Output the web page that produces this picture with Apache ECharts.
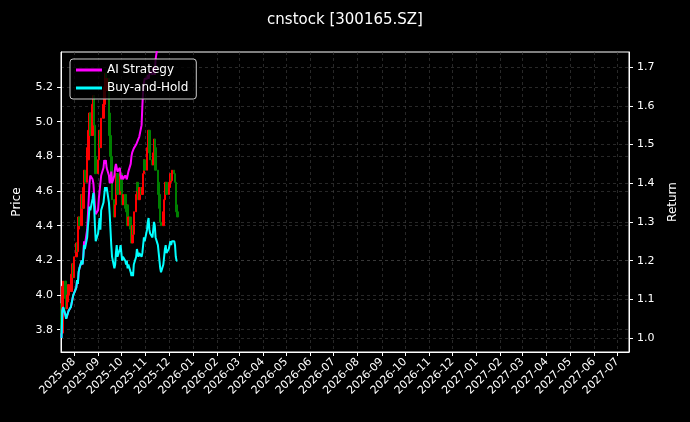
<!DOCTYPE html>
<html><head><meta charset="utf-8">
<script src="https://cdn.jsdelivr.net/npm/echarts@6/dist/echarts.min.js"></script>
<style>html,body{margin:0;background:#000}#c{width:690px;height:422px}</style>
</head><body><div id="c"></div>
<script>
const startDate = '2025-07-16';
const closes = [3.78,4.05,4.08,3.98,3.92,3.96,4.00, 4.06,4.02,4.12,4.18,4.10,4.22,
4.30,4.25,4.38,4.45,4.40,4.58,4.50, 4.62,4.72,4.65,4.85,4.78,4.95,5.05,
4.92,5.10,5.15,4.98,4.80,4.70, 4.78,4.88,4.95,4.85,5.02,5.10,
5.20,5.28,5.18,5.25,5.05,4.92, 4.80,4.68,4.55,4.45,4.52,4.62,
4.70,4.58,4.65,4.70,4.60,4.52, 4.58,4.50,4.48,4.52,4.40,4.45,
4.38,4.30,4.40,4.35,4.48,4.58, 4.65,4.60,4.55,4.62,4.58,4.62,
4.70,4.78,4.72,4.85,4.92,4.95, 4.82,4.78,4.75,4.82,4.90,4.85,
4.72,4.65,4.58,4.50,4.42,4.40, 4.48,4.55,4.62,4.65,4.58,4.62,
4.65,4.70,4.66,4.72,4.70,4.65, 4.52,4.48,4.45];
const firstOpen = 3.95;
const buyHold = [1.00,1.07,1.08,1.06,1.05,1.05,1.055, 1.07,1.08,1.09,1.10,1.11,1.11,
1.13,1.15,1.14,1.17,1.18,1.20,1.19, 1.21,1.24,1.23,1.26,1.29,1.31,1.34,
1.33,1.36,1.375,1.34,1.29,1.25, 1.27,1.29,1.31,1.28,1.33,1.35,
1.37,1.39,1.38,1.39,1.35,1.32, 1.28,1.24,1.21,1.18,1.19,1.22,
1.24,1.21,1.23,1.24,1.22,1.20, 1.21,1.20,1.19,1.20,1.18,1.19,
1.17,1.16,1.17,1.16,1.19,1.21, 1.23,1.22,1.21,1.22,1.21,1.22,
1.24,1.26,1.25,1.28,1.30,1.31, 1.28,1.27,1.26,1.28,1.30,1.29,
1.26,1.24,1.22,1.20,1.18,1.17, 1.19,1.21,1.23,1.24,1.22,1.23,
1.24,1.25,1.24,1.25,1.25,1.24, 1.21,1.20,1.20];
const aiStrategy = [1.00,1.07,1.08,1.06,1.05,1.05,1.055, 1.07,1.08,1.09,1.10,1.11,1.11,
1.13,1.15,1.14,1.17,1.18,1.20,1.19, 1.21,1.25,1.24,1.28,1.32,1.36,1.40,
1.42,1.41,1.40,1.37,1.34,1.32, 1.33,1.36,1.38,1.40,1.42,1.44,
1.46,1.45,1.46,1.44,1.42,1.40, 1.41,1.43,1.40,1.42,1.44,1.45,
1.44,1.43,1.44,1.42,1.41,1.42, 1.41,1.42,1.42,1.41,1.42,1.43,
1.45,1.47,1.48,1.48,1.49,1.50, 1.50,1.51,1.51,1.52,1.55,1.60,
1.64,1.66,1.67,1.67,1.68,1.67, 1.68,1.69,1.68,1.70,1.69,1.68,
1.72,1.76,1.79,1.81,1.80,1.82,1.84,1.83,1.85,1.86,1.84,1.85,1.87,1.86,1.85,1.84,1.86,1.85,1.83,1.82,1.82];
const priceTicks = [3.8,4.0,4.2,4.4,4.6,4.8,5.0,5.2];
const returnTicks = [1.0,1.1,1.2,1.3,1.4,1.5,1.6,1.7];

const dates = [];
let d = Date.parse(startDate + 'T00:00:00Z');
while (dates.length < closes.length) {
  const w = new Date(d).getUTCDay();
  if (w !== 0 && w !== 6) dates.push(d);
  d += 86400000;
}
const candles = closes.map((c,i) => {
  const o = i === 0 ? firstOpen : closes[i-1];
  return [dates[i], o, c, Math.min(o,c), Math.max(o,c)];
});
const monthTicks = [];
for (let y = 2025, m = 8; !(y === 2027 && m > 7); m++) {
  if (m > 12) { m = 1; y++; }
  monthTicks.push(Date.UTC(y, m-1, 1));
}
const white = '#ffffff';
const gridLine = {show:true, lineStyle:{color:'#444', type:[3,3], width:0.6}};
const chart = echarts.init(document.getElementById('c'));
chart.setOption({
  backgroundColor:'#000',
  animation:false,
  title:{text:'cnstock [300165.SZ]', left:'center', top:8, textStyle:{color:white, fontSize:15, fontWeight:'normal', fontFamily:'DejaVu Sans'}},
  legend:{left:70, top:59, orient:'vertical', itemGap:6, itemWidth:26, itemHeight:3,
    backgroundColor:'rgba(0,0,0,0.8)', borderColor:'#ccc', borderWidth:1, borderRadius:3, padding:[5,8,5,6],
    textStyle:{color:white, fontSize:12, fontFamily:'DejaVu Sans'},
    data:[{name:'AI Strategy', icon:'rect'},{name:'Buy-and-Hold', icon:'rect'}], z:10},
  grid:{left:61, right:61, top:52, bottom:70, show:true, borderColor:white, borderWidth:1, backgroundColor:'transparent'},
  xAxis:{type:'value', min:Date.UTC(2025,6,15,8), max:Date.UTC(2027,6,16),
    axisLine:{lineStyle:{color:white}},
    axisTick:{show:true, customValues:monthTicks, lineStyle:{color:white}, length:4},
    axisLabel:{customValues:monthTicks, rotate:45, color:white, fontSize:11, fontFamily:'DejaVu Sans',
      formatter:v=>{const t=new Date(v);return t.getUTCFullYear()+'-'+String(t.getUTCMonth()+1).padStart(2,'0');}},
    splitLine:gridLine},
  yAxis:[
    {type:'value', min:3.671, max:5.402, name:'Price', nameLocation:'middle', nameGap:38, nameRotate:90,
      nameTextStyle:{color:white, fontSize:12, fontFamily:'DejaVu Sans'},
      axisLine:{show:true, lineStyle:{color:white}}, axisTick:{show:true, customValues:priceTicks, length:4},
      axisLabel:{customValues:priceTicks, color:white, fontSize:11, fontFamily:'DejaVu Sans', formatter:v=>v.toFixed(1)},
      splitLine:gridLine},
    {type:'value', min:0.964, max:1.739, name:'Return', nameLocation:'middle', nameGap:38, nameRotate:90,
      nameTextStyle:{color:white, fontSize:12, fontFamily:'DejaVu Sans'},
      axisLine:{show:true, lineStyle:{color:white}}, axisTick:{show:true, customValues:returnTicks, length:4},
      axisLabel:{customValues:returnTicks, color:white, fontSize:11, fontFamily:'DejaVu Sans', formatter:v=>v.toFixed(1)},
      splitLine:gridLine}
  ],
  series:[
    {type:'candlestick', name:'Price', yAxisIndex:0, barWidth:2,
      data:candles,
      itemStyle:{color:'#ff0000', color0:'#008000', borderColor:'#ff0000', borderColor0:'#008000', borderWidth:1}},
    {type:'line', name:'AI Strategy', yAxisIndex:1, showSymbol:false, data:dates.map((t,i)=>[t,aiStrategy[i]]),
      lineStyle:{color:'#ff00ff', width:2}, itemStyle:{color:'#ff00ff'}, z:3},
    {type:'line', name:'Buy-and-Hold', yAxisIndex:1, showSymbol:false, data:dates.map((t,i)=>[t,buyHold[i]]),
      lineStyle:{color:'#00ffff', width:2}, itemStyle:{color:'#00ffff'}, z:3}
  ]
});
</script></body></html>
